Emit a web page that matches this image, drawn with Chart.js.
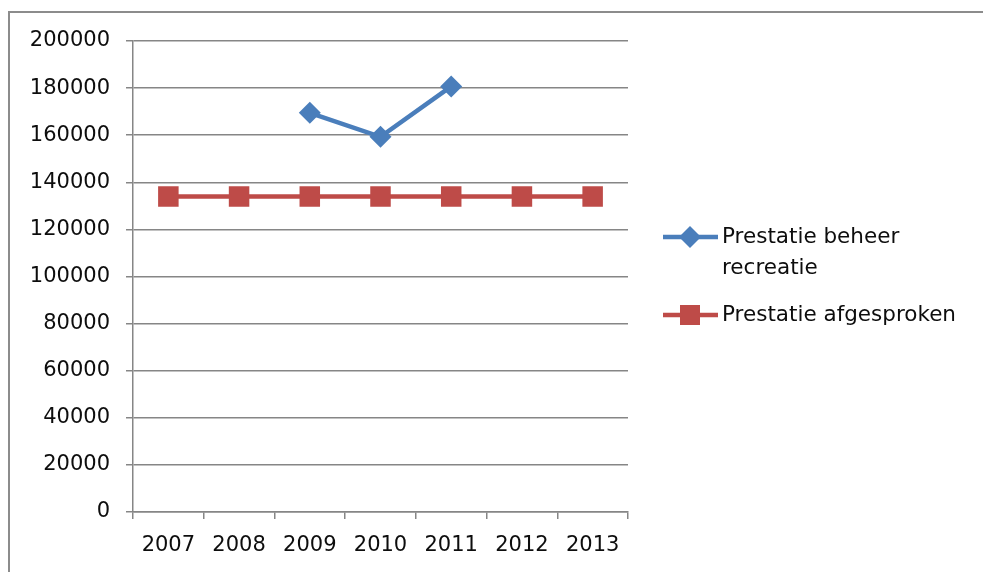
<!DOCTYPE html>
<html>
<head>
<meta charset="utf-8">
<script src="https://cdn.jsdelivr.net/npm/chart.js@4.4.0/dist/chart.umd.min.js"></script>
<style>
  html, body { margin: 0; padding: 0; background: #fff; overflow: hidden; }
  #frame {
    position: absolute; left: 8px; top: 11px; width: 1000px; height: 600px;
    border: 2px solid #8c8c8c; box-sizing: border-box;
  }
  canvas { position: absolute; left: 0; top: 0; }
</style>
</head>
<body>
<div id="frame"></div>
<canvas id="myChartLine" width="983" height="572"></canvas>
<script>
// data
let years = ['2007', '2008', '2009', '2010', '2011', '2012', '2013'];
let beheerRecreatie = [null, null, 169500, 159300, 180700, null, null];
let afgesproken = [134000, 134000, 134000, 134000, 134000, 134000, 134000];
let seriesLabels = [['Prestatie beheer', 'recreatie'], ['Prestatie afgesproken']];
let yTicks = [0, 20000, 40000, 60000, 80000, 100000, 120000, 140000, 160000, 180000, 200000];

let blue = '#4a7ebb';
let red = '#be4b48';
let gridGray = '#868686';
let fontFamily = '"DejaVu Sans", sans-serif';

// legend drawn by hand on the right, lines may wrap like in the picture
let sideLegend = {
    id: 'sideLegend',
    afterDraw(chart) {
        let ctx = chart.ctx;
        let rows = [237, 315];
        ctx.save();
        chart.data.datasets.forEach(function (ds, i) {
            let y = rows[i];
            ctx.strokeStyle = ds.borderColor;
            ctx.lineWidth = 4.5;
            ctx.beginPath();
            ctx.moveTo(663, y);
            ctx.lineTo(718, y);
            ctx.stroke();
            ctx.fillStyle = ds.pointBackgroundColor;
            ctx.beginPath();
            if (ds.pointStyle === 'rect') {
                ctx.rect(690 - 10, y - 10, 20, 20);
            } else {
                ctx.moveTo(690, y - 11);
                ctx.lineTo(701, y);
                ctx.lineTo(690, y + 11);
                ctx.lineTo(679, y);
                ctx.closePath();
            }
            ctx.fill();
            ctx.fillStyle = '#0d0d0d';
            ctx.font = '21.5px ' + fontFamily;
            ctx.textBaseline = 'middle';
            let lines = seriesLabels[i];
            for (let j = 0; j < lines.length; j++) {
                ctx.fillText(lines[j], 722, y + j * 31);
            }
        });
        ctx.restore();
    }
};

let canvas = document.getElementById('myChartLine');
let dataChart = {
    labels: years,
    datasets: [{
        label: seriesLabels[0].join(' '),
        data: beheerRecreatie,
        borderColor: blue,
        backgroundColor: blue,
        pointBackgroundColor: blue,
        pointBorderColor: blue,
        pointStyle: 'rectRot',
        pointRadius: 11,
        pointBorderWidth: 0,
        borderWidth: 4.5,
        spanGaps: false,
        tension: 0
    }, {
        label: seriesLabels[1].join(' '),
        data: afgesproken,
        borderColor: red,
        backgroundColor: red,
        pointBackgroundColor: red,
        pointBorderColor: red,
        pointStyle: 'rect',
        pointRadius: 14.5,
        pointBorderWidth: 0,
        borderWidth: 4.5,
        tension: 0
    }]
};

let options = {
    responsive: false,
    animation: false,
    devicePixelRatio: 1,
    layout: { padding: { left: 0, top: 41, right: 355, bottom: 0 } },
    plugins: {
        legend: { display: false },
        tooltip: { enabled: false }
    },
    scales: {
        x: {
            type: 'category',
            offset: true,
            grid: {
                offset: true,
                drawOnChartArea: false,
                drawTicks: true,
                tickLength: 7,
                color: gridGray,
                lineWidth: 1.5
            },
            border: { display: true, color: gridGray, width: 1.5 },
            ticks: {
                color: '#0d0d0d',
                font: { family: fontFamily, size: 21 },
                padding: 14,
                maxRotation: 0
            },
            afterFit: function (scale) { scale.height = 60; }
        },
        y: {
            min: 0,
            max: 200000,
            afterBuildTicks: function (scale) {
                scale.ticks = yTicks.map(function (v) { return { value: v }; });
            },
            grid: {
                color: gridGray,
                lineWidth: 1.5,
                tickLength: 7
            },
            border: { display: true, color: gridGray, width: 1.5 },
            ticks: {
                color: '#0d0d0d',
                font: { family: fontFamily, size: 21 },
                padding: 16,
                callback: function (v) { return String(v); }
            },
            afterFit: function (scale) { scale.width = 133; }
        }
    }
};

myChartLine = new Chart(canvas, {
    type: 'line',
    data: dataChart,
    options: options,
    plugins: [sideLegend]
});
</script>
</body>
</html>
